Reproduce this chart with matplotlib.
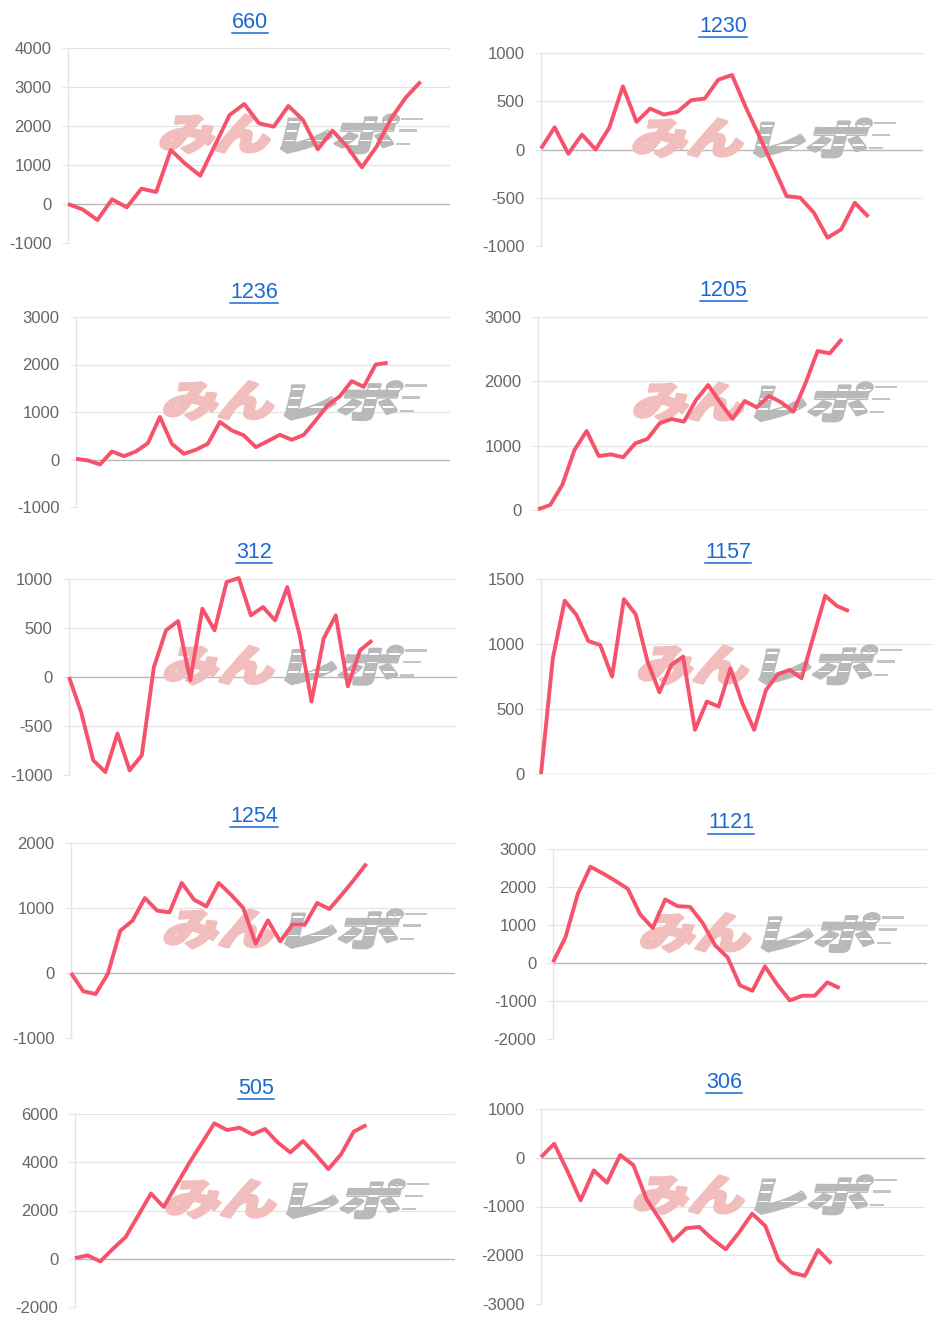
import matplotlib
matplotlib.use('Agg')
import matplotlib.pyplot as plt
from matplotlib.textpath import TextPath
from matplotlib.font_manager import FontProperties
from matplotlib.patches import PathPatch, Rectangle
from matplotlib.transforms import Affine2D
from matplotlib.lines import Line2D

# ---------------- data ----------------
titles = ["660", "1230", "1236", "1205", "312", "1157", "1254", "1121", "505", "306"]

s660 = [0, -140, -410, 120, -85, 393, 308, 1385, 1026, 726, 1504, 2282, 2564, 2068,
        1983, 2513, 2154, 1402, 1880, 1470, 940, 1470, 2197, 2735, 3137]
s1230 = [10, 230, -45, 155, 0, 225, 655, 286, 424, 362, 390, 510, 528, 724, 772,
         441, 138, -170, -483, -500, -655, -914, -828, -552, -697]
s1236 = [15, -20, -105, 170, 70, 170, 345, 895, 330, 120, 205, 330, 790, 613, 507,
         260, 387, 520, 415, 520, 824, 1140, 1330, 1650, 1530, 2000, 2035]
s1205 = [10, 78, 390, 933, 1228, 839, 865, 819, 1036, 1104, 1347, 1415, 1373, 1710,
         1943, 1668, 1415, 1694, 1596, 1772, 1674, 1528, 1969, 2471, 2435, 2658]
s312 = [0, -357, -850, -970, -578, -952, -800, 100, 476, 571, -34, 697, 476, 969,
        1010, 629, 714, 578, 918, 442, -250, 391, 629, -95, 272, 374]
s1157 = [0, 890, 1333, 1223, 1023, 992, 749, 1345, 1228, 864, 629, 839, 903, 340,
         557, 519, 813, 545, 340, 647, 767, 801, 736, 1056, 1371, 1292, 1253]
s1254 = [0, -282, -323, -10, 651, 805, 1154, 959, 933, 1385, 1128, 1026, 1385, 1205,
         1000, 451, 810, 487, 744, 744, 1077, 985, 1205, 1436, 1682]
s1121 = [18, 677, 1829, 2533, 2357, 2163, 1952, 1275, 923, 1671, 1495, 1477, 1055,
         466, 150, -589, -730, -88, -572, -985, -862, -862, -510, -660]
s505 = [28, 139, -111, 416, 901, 1802, 2703, 2148, 3049, 3950, 4782, 5613, 5336,
        5433, 5156, 5378, 4823, 4407, 4879, 4324, 3714, 4324, 5267, 5544]
s306 = [14, 287, -273, -874, -259, -512, 55, -150, -853, -1263, -1706, -1447, -1420,
        -1672, -1877, -1536, -1147, -1399, -2102, -2355, -2423, -1891, -2171]

series = [s660, s1230, s1236, s1205, s312, s1157, s1254, s1121, s505, s306]

yticks = [
    [-1000, 0, 1000, 2000, 3000, 4000],
    [-1000, -500, 0, 500, 1000],
    [-1000, 0, 1000, 2000, 3000],
    [0, 1000, 2000, 3000],
    [-1000, -500, 0, 500, 1000],
    [0, 500, 1000, 1500],
    [-1000, 0, 1000, 2000],
    [-2000, -1000, 0, 1000, 2000, 3000],
    [-2000, 0, 2000, 4000, 6000],
    [-3000, -2000, -1000, 0, 1000],
]

# ---------------- layout (pixels) ----------------
W, H = 942, 1328
# left, right, top, bottom of plot area; x extent in category units; title y
boxes = [
    (68, 450, 48, 243, 26.0, 22),
    (541, 923, 53, 246, 28.0, 26),
    (76, 450, 317, 507, 31.2, 292),
    (538, 927, 317, 510, 32.0, 290),
    (69, 457, 579, 775, 32.0, 552),
    (541, 933, 579, 774, 33.1, 552),
    (71, 455, 843, 1038, 31.2, 816),
    (553, 927, 849, 1039, 30.0, 823),
    (75, 455, 1114, 1307, 30.0, 1088),
    (541, 925, 1109, 1304, 29.1, 1082),
]

LINE_COLOR = '#f7526b'
TITLE_COLOR = '#1b6ad2'
GRID_COLOR = '#e4e4e4'
ZERO_COLOR = '#b8b8b8'
TICK_COLOR = '#666666'

plt.rcParams['font.family'] = ['Liberation Sans', 'DejaVu Sans']

fig = plt.figure(figsize=(W / 100, H / 100), dpi=100)
fig.patch.set_facecolor('white')

wm_font = FontProperties(family='Noto Sans CJK JP', weight='black')
p_min = TextPath((0, 0), 'みん', size=100, prop=wm_font)
p_repo = TextPath((0, 0), 'レポ', size=100, prop=wm_font)


def fit_transform(path, w, h, x0, y0, skew=14):
    e = path.get_extents()
    return (Affine2D().translate(-e.x0, -e.y0)
            .scale(w / e.width, h / e.height)
            .skew_deg(skew, 0)
            .translate(x0, y0))


def watermark(ax, left, right, top, bottom):
    cx = left + 0.54 * (right - left)
    cy_top = top + 0.44 * (bottom - top)  # from top of figure
    cy = H - cy_top
    wh = 38
    x_start = cx - 116
    y0 = cy - wh / 2
    t1 = fit_transform(p_min, 108, wh, x_start, y0)
    pm = PathPatch(p_min, transform=t1, facecolor='#f2bdbd', edgecolor='#f2bdbd',
                   linewidth=2.2, joinstyle='round', zorder=1.5, clip_on=False)
    ax.add_patch(pm)
    t2 = fit_transform(p_repo, 110, wh, x_start + 122, y0)
    pr = PathPatch(p_repo, transform=t2, facecolor='#b9b9b9', edgecolor='#b9b9b9',
                   linewidth=2.2, joinstyle='round', zorder=1.6, clip_on=False)
    ax.add_patch(pr)
    # speed-line stripes through the grey glyphs
    for fy in (0.3, 0.55, 0.78):
        r = Rectangle((x_start + 110, y0 + fy * wh), 140, 1.8,
                      transform=Affine2D(), facecolor='white', edgecolor='none',
                      zorder=1.7)
        ax.add_patch(r)
        r.set_clip_path(pr)
    # extra speed lines
    for fy, ln in ((0.86, 22), (0.55, 18), (0.2, 14)):
        r = Rectangle((x_start + 236 + fy * 8, y0 + fy * wh), ln, 2.5,
                      transform=Affine2D(), facecolor='#c4c4c4', edgecolor='none',
                      zorder=1.6, clip_on=False)
        ax.add_patch(r)


axes = []
title_texts = []
for i, (title, vals, ticks, box) in enumerate(zip(titles, series, yticks, boxes)):
    left, right, top, bottom, xmax, ty = box
    ax = fig.add_axes([left / W, 1 - bottom / H, (right - left) / W, (bottom - top) / H])
    ax.set_facecolor('none')
    for s in ('top', 'right', 'bottom'):
        ax.spines[s].set_visible(False)
    ax.spines['left'].set_color(GRID_COLOR)
    ax.spines['left'].set_linewidth(1.0)
    ax.set_xticks([])
    ax.set_yticks(ticks)
    ax.set_yticklabels([str(t) for t in ticks])
    ax.tick_params(axis='y', length=4, width=0.8, color=GRID_COLOR, pad=8,
                   labelsize=12, labelcolor=TICK_COLOR)
    for t in ticks:
        ax.axhline(t, color=ZERO_COLOR if t == 0 else GRID_COLOR,
                   lw=1.0 if t == 0 else 0.9, zorder=1)
    watermark(ax, left, right, top, bottom)
    ax.plot(range(len(vals)), vals, color=LINE_COLOR, lw=2.8, zorder=3,
            solid_joinstyle='round', solid_capstyle='butt', clip_on=False)
    ax.set_xlim(0, xmax)
    ax.set_ylim(ticks[0], ticks[-1])
    tx = (left + right) / 2 - 9
    tt = fig.text(tx / W, 1 - ty / H, title, ha='center', va='center',
                  fontsize=15.5, color=TITLE_COLOR)
    title_texts.append(tt)
    axes.append(ax)

fig.canvas.draw()
renderer = fig.canvas.get_renderer()
for tt in title_texts:
    bb = tt.get_window_extent(renderer)
    yline = bb.y0 - 0.5
    fig.add_artist(Line2D([bb.x0 / W, bb.x1 / W], [yline / H, yline / H],
                          transform=fig.transFigure, color=TITLE_COLOR, lw=1.1))

fig.savefig('out.png', dpi=100, facecolor='white')
